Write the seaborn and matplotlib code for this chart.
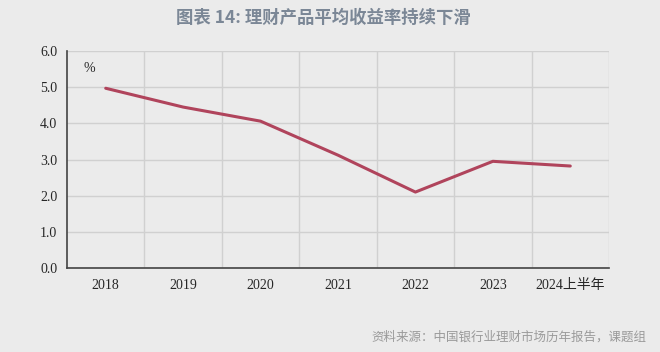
import matplotlib
matplotlib.use("Agg")
import matplotlib.pyplot as plt
import numpy as np
import pandas as pd
import seaborn as sns

years = ["2018", "2019", "2020", "2021", "2022", "2023", "2024上半年"]
yields = [4.97, 4.45, 4.06, 3.12, 2.10, 2.95, 2.82]

sns.set_style("white")
plt.rcParams["font.family"] = ["Liberation Serif", "Noto Sans CJK SC"]

bg = "#ebebeb"
fig = plt.figure(figsize=(6.6, 3.52), dpi=100, facecolor=bg)
ax = fig.add_axes([0.1015, 0.2386, 0.8212, 0.6165], facecolor=bg)

df = pd.DataFrame({"year": years, "val": yields})
df["pos"] = np.arange(len(years))
sns.lineplot(data=df, x="pos", y="val", ax=ax, color="#b0445c", linewidth=2.2)

ax.set_xlim(-0.5, len(years) - 0.5)
ax.set_ylim(0, 6)
ax.set_yticks(np.arange(0, 6.1, 1.0))
ax.set_yticklabels([f"{v:.1f}" for v in np.arange(0, 6.1, 1.0)], fontsize=10)
ax.set_xticks(np.arange(len(years)))
ax.set_xticklabels(years, fontsize=10)
ax.tick_params(axis="x", length=0, pad=8)
ax.set_xticks(np.arange(len(years)) + 0.5, minor=True)
ax.tick_params(axis="x", which="minor", length=4, direction="out", color="#444")
ax.tick_params(axis="y", length=4, direction="out", color="#444", pad=3)
ax.grid(False)
ax.yaxis.grid(True, color="#d0d0d0", linewidth=1)
ax.xaxis.grid(True, which="minor", color="#d0d0d0", linewidth=1)
ax.set_axisbelow(True)
ax.set_xlabel("")
ax.set_ylabel("")
for s in ["top", "right"]:
    ax.spines[s].set_visible(False)
for s in ["left", "bottom"]:
    ax.spines[s].set_color("#444")
    ax.spines[s].set_linewidth(1.2)

ax.text(0.03, 0.95, "%", transform=ax.transAxes, fontsize=10, va="top", ha="left")

fig.text(0.49, 0.95, "图表 14: 理财产品平均收益率持续下滑", ha="center", va="center",
         fontsize=12.5, fontweight="bold", color="#7b8796",
         family=["Noto Sans CJK SC", "DejaVu Sans"])
fig.text(0.98, 0.043, "资料来源：中国银行业理财市场历年报告，课题组", ha="right", va="center",
         fontsize=9, color="#9a9a9a", family=["Noto Sans CJK SC", "DejaVu Sans"])

fig.savefig("out.png", dpi=100, facecolor=bg)
